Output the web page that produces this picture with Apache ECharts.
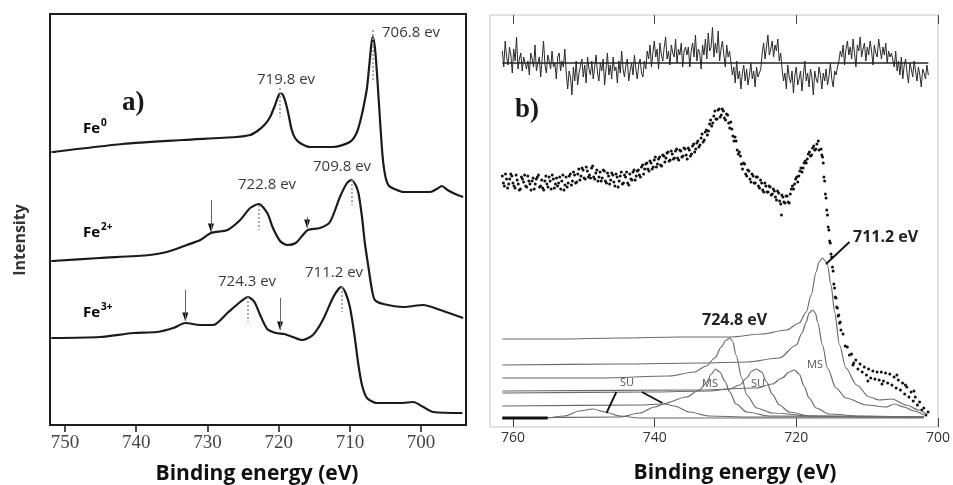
<!DOCTYPE html>
<html>
<head>
<meta charset="utf-8">
<script src="https://cdn.jsdelivr.net/npm/echarts@6/dist/echarts.min.js"></script>
<style>
  html, body { margin: 0; padding: 0; background: #fff; }
  #chart { width: 953px; height: 485px; }
</style>
</head>
<body>
<div id="chart"></div>
<script>
// ---------- Panel a: Fe 2p spectra of the reference states [binding energy (eV), intensity] ----------
const fe0 = [[751.7,273],[741.9,281],[733.4,285],[726.0,288],[724.0,290],[723.0,294],[722.0,300],[721.2,308],[720.5,320],[720.1,328],[719.8,332],[719.4,330],[719.0,322],[718.6,310],[718.2,296],[717.7,287],[717.0,282],[715.6,278],[712.4,278],[710.0,283],[709.0,293],[708.3,311],[707.9,325],[707.6,337],[707.3,358],[707.0,380],[706.8,388],[706.5,378],[706.2,352],[705.8,308],[705.4,268],[705.0,248],[704.5,239],[703.4,235],[702.5,233],[698.7,233],[697.8,236],[697.1,239],[696.3,235],[695.2,231],[694.1,228]];
const fe2 = [[751.8,164],[745.1,167],[738.1,170],[735.7,173],[732.9,180],[731.0,185],[729.5,192],[727.2,195],[725.4,205],[724.0,217],[722.8,221],[721.6,212],[720.8,197],[719.8,184],[718.8,180],[717.6,182],[716.6,190],[715.9,195],[714.2,197],[712.8,203],[711.4,228],[710.4,242],[709.8,245],[709.2,240],[708.8,232],[708.3,208],[707.9,182],[707.4,158],[706.9,135],[706.5,125],[705.3,121],[702.5,118],[699.7,120],[697.3,115],[694.1,107]];
const fe3 = [[751.8,87],[745.1,88],[740.4,92],[737.1,93],[734.8,97],[733.1,102],[731.0,100],[729.2,100],[727.2,112],[725.4,123],[724.3,128],[723.4,123],[722.6,110],[721.6,96],[720.4,92],[719.2,91],[718.0,88],[716.7,85],[715.2,90],[713.8,105],[712.4,127],[711.6,136],[711.2,138],[710.6,132],[710.0,118],[709.4,92],[708.8,60],[708.3,40],[707.6,27],[706.2,22],[702.9,22],[701.1,23],[699.7,18],[698.3,13],[694.2,12]];
const panelATicks = [700, 710, 720, 730, 740, 750];
const spectrumStarts = [273, 164, 87];
// peak positions quoted on panel a, and the dotted guides under them [eV, from, to]
const peakLabelsA = [706.8, 719.8, 709.8, 722.8, 724.3, 711.2];
const peakGuidesA = [[706.8,395,343],[719.8,337,308],[709.8,245,220],[722.8,220,195],[724.3,128,103],[711.2,138,113]];
// shake-up shoulders marked with arrows [eV, from, to]
const shoulderArrows = [[729.5,225,193],[716.0,208,197],[733.1,135,104],[719.8,127,95]];

// ---------- Panel b: measured spectrum, fit residual and fitted components ----------
const panelBTicks = [700, 720, 740, 760];
const residual = [
[761.5,12],[761.3,-4],[761.1,22],[760.9,6],[760.7,-2],[760.5,16],[760.3,8],[760.1,-10],[759.9,14],[759.7,2],[759.5,26],[759.3,-6],[759.1,4],[758.9,10],[758.7,-8],[758.5,6],
[758.3,8],[758.1,-6],[757.9,2],[757.7,-12],[757.5,10],[757.3,4],[757.1,-4],[756.9,18],[756.7,-8],[756.5,0],[756.3,6],[756.1,-14],[755.9,4],[755.7,22],[755.5,-2],[755.3,-10],[755.1,8],[754.9,2],[754.7,-6],[754.5,12],[754.3,-4],[754.1,0],[753.9,-16],[753.7,6],[753.5,10],[753.3,-8],[753.1,2],[752.9,-4],[752.7,14],[752.5,-10],
[752.3,-26],[752.1,-8],[751.9,-14],[751.7,-32],[751.5,-4],[751.3,-18],[751.1,2],[750.9,-22],[750.7,-10],
[750.5,-8],[750.3,4],[750.1,-14],[749.9,-2],[749.7,-20],[749.5,6],[749.3,-6],[749.1,-12],[748.9,2],[748.7,-16],[748.5,-4],[748.3,8],[748.1,-10],[747.9,-18],[747.7,0],[747.5,-8],[747.3,4],[747.1,-22],[746.9,-6],[746.7,10],[746.5,-12],[746.3,-2],[746.1,-16],[745.9,6],[745.7,-8],[745.5,-4],[745.3,-20],[745.1,2],[744.9,-10],[744.7,12],[744.5,-6],[744.3,-14],[744.1,-2],[743.9,4],[743.7,-18],[743.5,-8],[743.3,0],[743.1,-12],[742.9,8],[742.7,-6],[742.5,-16],[742.3,-2],[742.1,4],[741.9,-10],[741.7,-14],[741.5,2],[741.3,-6],
[741.1,12],[740.9,4],[740.7,18],[740.5,-4],[740.3,10],[740.1,22],[739.9,6],[739.7,14],[739.5,-6],[739.3,20],[739.1,8],[738.9,2],[738.7,16],[738.5,26],[738.3,4],[738.1,12],[737.9,-2],[737.7,18],[737.5,10],[737.3,6],[737.1,24],[736.9,0],[736.7,14],[736.5,8],[736.3,20],[736.1,-4],[735.9,12],[735.7,16],
[735.5,8],[735.3,16],[735.1,-4],[734.9,12],[734.7,20],[734.5,6],[734.3,28],[734.1,2],[733.9,14],[733.7,10],[733.5,-6],[733.3,18],[733.1,8],[732.9,24],[732.7,4],[732.5,30],[732.3,12],[732.1,16],[731.9,36],[731.7,6],[731.5,20],[731.3,10],[731.1,32],[730.9,2],[730.7,14],[730.5,22],[730.3,8],[730.1,-4],[729.9,18],[729.7,6],[729.5,12],[729.3,0],
[729.1,-12],[728.9,-4],[728.7,-20],[728.5,2],[728.3,-16],[728.1,-8],[727.9,-26],[727.7,-10],[727.5,-2],[727.3,-18],[727.1,-6],[726.9,-22],[726.7,-12],[726.5,0],[726.3,-16],[726.1,-8],[725.9,-24],[725.7,-4],[725.5,-14],[725.3,-10],[725.1,-6],
[724.9,10],[724.7,20],[724.5,4],[724.3,16],[724.1,28],[723.9,8],[723.7,14],[723.5,22],[723.3,6],[723.1,18],[722.9,12],[722.7,24],[722.5,2],[722.3,10],
[722.1,-6],[721.9,-18],[721.7,-10],[721.5,-26],[721.3,-2],[721.1,-14],[720.9,-20],[720.7,-8],[720.5,-30],[720.3,-12],[720.1,-4],[719.9,-22],[719.7,-16],[719.5,-8],[719.3,-28],[719.1,-12],[718.9,2],[718.7,-18],[718.5,-10],[718.3,-24],[718.1,-6],[717.9,-14],[717.7,-32],[717.5,-8],[717.3,-16],[717.1,-20],[716.9,-4],[716.7,-12],[716.5,-26],[716.3,-10],[716.1,-18],[715.9,-6],[715.7,-22],[715.5,-14],[715.3,0],[715.1,-16],[714.9,-24],[714.7,-8],[714.5,-12],[714.3,-4],
[714.1,2],[713.9,12],[713.7,6],[713.5,18],[713.3,-2],[713.1,14],[712.9,22],[712.7,8],[712.5,16],[712.3,4],[712.1,24],[711.9,10],[711.7,-4],[711.5,18],[711.3,12],[711.1,26],[710.9,6],[710.7,14],[710.5,20],[710.3,2],[710.1,16],[709.9,8],[709.7,22],[709.5,12],[709.3,-2],[709.1,18],[708.9,10],[708.7,6],[708.5,24],[708.3,14],[708.1,4],[707.9,16],[707.7,8],[707.5,20],[707.3,0],[707.1,12],[706.9,6],[706.7,10],
[706.5,8],[706.3,-4],[706.1,12],[705.9,-8],[705.7,2],[705.5,-12],[705.3,6],[705.1,-16],[704.9,-2],[704.7,4],[704.5,-10],[704.3,-20],[704.1,0],[703.9,-6],[703.7,-14],[703.5,2],[703.3,-8],[703.1,-18],[702.9,-4],[702.7,-12],[702.5,-24],[702.3,-6],[702.1,-10],[701.9,-16],[701.7,-2],[701.5,-12]];
const measured = [[761.5,251],[761.2,241],[760.9,248],[760.6,243],[760.3,253],[760.0,244],[759.7,239],[759.4,247],[759.1,237],[758.8,250],[758.5,245],[758.2,241],[757.9,251],[757.6,243],[757.3,246],[757.0,238],[756.7,248],[756.4,252],[756.1,241],[755.8,239],[755.5,246],[755.2,243],[754.9,250],[754.6,238],[754.3,248],[754.0,243],[753.7,241],[753.4,250],[753.1,246],[752.8,237],[752.5,250],[752.2,244],[751.9,253],[751.6,246],[751.3,252],[751.0,245],[750.7,258],[750.4,251],[750.1,257],[749.8,248],[749.5,256],[749.2,252],[748.9,259],[748.6,250],[748.3,254],[748.0,246],[747.7,255],[747.4,249],[747.1,256],[746.8,244],[746.5,251],[746.2,247],[745.9,252],[745.6,241],[745.3,250],[745.0,246],[744.7,255],[744.4,244],[744.1,250],[743.8,244],[743.5,253],[743.2,247],[742.9,257],[742.6,251],[742.3,257],[742.0,250],[741.7,262],[741.4,258],[741.1,264],[740.8,256],[740.5,264],[740.2,260],[739.9,270],[739.6,263],[739.3,270],[739.0,261],[738.7,271],[738.4,269],[738.1,275],[737.8,267],[737.5,273],[737.2,269],[736.9,278],[736.6,267],[736.3,276],[736.0,271],[735.7,278],[735.4,268],[735.1,277],[734.8,273],[734.5,283],[734.2,278],[733.9,286],[733.6,282],[733.3,293],[733.0,287],[732.7,297],[732.4,296],[732.1,307],[731.8,304],[731.5,316],[731.2,308],[730.9,318],[730.6,312],[730.3,316],[730.0,307],[729.7,312],[729.4,299],[729.1,298],[728.8,286],[728.5,286],[728.2,273],[727.9,271],[727.6,258],[727.3,263],[727.0,251],[726.7,256],[726.4,245],[726.1,251],[725.8,244],[725.5,250],[725.2,239],[724.9,244],[724.6,235],[724.3,241],[724.0,235],[723.7,240],[723.4,233],[723.1,236],[722.8,227],[722.5,234],[722.2,223],[721.9,230],[721.6,224],[721.3,231],[721.0,224],[720.7,238],[720.4,238],[720.1,248],[719.8,245],[719.5,256],[719.2,255],[718.9,264],[718.6,264],[718.3,273],[718.0,271],[717.7,279],[717.4,277],[717.1,283],[716.8,277],[716.5,278],[716.4,272],[716.3,270],[716.2,264],[716.1,250],[716.0,246],[715.9,233],[715.8,229],[715.7,217],[715.6,212],[715.5,200],[715.4,197],[715.3,186],[715.2,184],[715.1,173],[715.0,170],[714.9,160],[714.8,156],[714.7,143],[714.6,139],[714.5,130],[714.4,129],[714.3,120],[714.2,119],[714.1,111],[714.0,112],[713.9,104],[713.8,105],[713.7,97],[713.4,93],[713.1,81],[712.8,80],[712.5,72],[712.2,73],[711.9,64],[711.6,67],[711.3,58],[711.0,63],[710.7,55],[710.4,60],[710.1,52],[709.8,58],[709.5,49],[709.2,56],[708.9,48],[708.6,55],[708.3,47],[708.0,55],[707.7,46],[707.4,54],[707.1,44],[706.8,53],[706.5,42],[706.2,50],[705.9,39],[705.6,47],[705.3,37],[705.0,44],[704.7,33],[704.4,40],[704.1,30],[703.8,35],[703.5,26],[703.2,30],[702.9,22],[702.6,25],[702.3,17],[702.0,19],[701.7,12],[701.4,15],
[761.35,244],[761.05,253],[760.75,239],[760.45,248],[760.15,251],[759.85,241],[759.55,252],[759.25,243],[758.95,238],[758.65,248],[758.35,252],[758.05,240],[757.75,246],[757.45,237],[757.15,249],[756.85,243],[756.55,250],[756.25,240],[755.95,247],[755.65,237],[755.35,251],[755.05,240],[754.75,246],[754.45,252],[754.15,239],[753.85,249],[753.55,244],[753.25,238],[752.95,252],[752.65,242],[752.35,240],[752.05,251],[751.75,242],[751.45,255],[751.15,244],[750.85,253],[750.55,247],[750.25,259],[749.95,249],[749.65,260],[749.35,250],[749.05,249],[748.75,261],[748.45,248],[748.15,257],[747.85,250],[747.55,246],[747.25,257],[746.95,246],[746.65,254],[746.35,243],[746.05,254],[745.75,245],[745.45,253],[745.15,240],[744.85,251],[744.55,243],[744.25,252],[743.95,255],[743.65,242],[743.35,248],[743.05,255],[742.75,247],[742.45,256],[742.15,252],[741.85,260],[741.55,253],[741.25,263],[740.95,258],[740.65,266],[740.35,258],[740.05,267],[739.75,260],[739.45,268],[739.15,262],[738.85,272],[738.55,265],[738.25,274],[737.95,266],[737.65,276],[737.35,268],[737.05,276],[736.75,269],[736.45,277],[736.15,270],[735.85,279],[735.55,272],[735.25,279],[734.95,271],[734.65,281],[734.35,275],[734.05,284],[733.75,280],[733.45,289],[733.15,285],[732.85,295],[732.55,292],[732.25,303],[731.95,301],[731.65,311],[731.35,308],[731.05,317],[730.75,310],[730.45,318],[730.15,309],[729.85,313],[729.55,304],[729.25,305],[728.95,291],[728.65,290],[728.35,277],[728.05,275],[727.75,263],[727.45,264],[727.15,253],[726.85,257],[726.55,248],[726.25,253],[725.95,244],[725.65,250],[725.35,241],[725.05,247],[724.75,237],[724.45,244],[724.15,235],[723.85,241],[723.55,232],[723.25,238],[722.95,230],[722.65,236],[722.35,226],[722.05,232],[721.75,225],[721.45,231],[721.15,225],[720.85,233],[720.55,241],[720.25,243],[719.95,250],[719.65,251],[719.35,259],[719.05,259],[718.75,266],[718.45,268],[718.15,275],[717.85,272],[717.55,281],[717.25,278],
[722.1,212],[716.9,286],[712.0,62],[709.9,46],[707.9,43],[705.8,52],[704.6,42],[703.4,36]];
const envelope = [[761.5,88],[753.4,88],[744.9,89],[736.5,90],[729.4,90],[724.8,93],[721.4,97],[719.6,104],[718.6,115],[717.9,132],[717.2,155],[716.8,165],[716.3,169],[715.9,166],[715.6,162],[715.1,142],[714.6,115],[713.9,82],[713.0,59],[711.5,42],[709.7,30],[708.3,27],[706.5,28],[704.5,22],[702.7,17],[701.7,13]];
const mainP3 = [[761.5,62],[744.9,63],[733.7,64],[727.0,65],[722.4,69],[720.0,82],[719.2,94],[718.6,105],[718.2,114],[717.7,117],[717.3,114],[717.0,105],[716.3,82],[715.6,59],[714.4,39],[713.0,29],[710.1,22],[707.3,20],[706.2,23],[704.8,20],[703.4,16],[702.0,12]];
const mainP1 = [[761.5,49],[747.7,49],[737.9,51],[734.4,55],[732.7,61],[731.5,69],[730.6,80],[729.9,87],[729.4,89],[729.0,86],[728.5,72],[727.7,49],[727.0,32],[725.6,19],[723.4,14],[717.7,11],[709.7,10],[702.0,10]];
const multipletP1 = [[761.5,21],[742.1,22],[738.9,23],[735.5,30],[733.7,37],[732.7,44],[732.0,53],[731.4,58],[730.8,55],[730.1,46],[729.4,35],[728.5,23],[727.0,15],[723.8,11],[702.0,10]];
const shakeUpA = [[761.5,34],[740.7,35],[732.3,36],[729.4,38],[728.0,42],[727.0,49],[726.3,56],[725.6,58],[724.9,55],[724.2,45],[723.4,33],[722.4,22],[721.0,15],[718.2,11],[702.0,10]];
const multipletP3 = [[761.5,36],[733.7,37],[725.6,39],[723.4,43],[722.0,49],[721.0,55],[720.3,57],[719.6,53],[718.9,41],[718.2,29],[717.2,19],[715.4,13],[711.1,11],[702.0,10]];
const shakeUpB = [[761.5,9],[744.9,10],[742.1,14],[740.0,20],[738.6,23],[737.2,21],[735.1,15],[732.3,11],[726.6,10],[702.0,10]];
const shakeUpC = [[761.5,9],[755.5,9],[752.7,11],[750.6,16],[748.7,18],[747.0,15],[744.9,11],[742.1,9],[702.0,9]];
const baselineHeavy = [[761.5,9],[755.1,9]];
const peakLabelsB = [724.8, 711.2];
// leader lines from the component labels [[eV, y], [eV, y]]
const suLeaders = [[[745.4,35],[746.8,14]], [[741.8,35],[738.9,24]]];
const peakLeaderB = [[712.5,185],[715.8,163]];

const chart = echarts.init(document.getElementById('chart'), null, { renderer: 'canvas' });

const sans = '"Open Sans", "Noto Sans", sans-serif';
const fmtA = v => v.toFixed(1) + ' ev';
const fmtB = v => v.toFixed(1) + ' eV';

function lineA(name, data, extra) {
  return Object.assign({
    type: 'line', name, data, xAxisIndex: 0, yAxisIndex: 0,
    showSymbol: false, smooth: 0.25, silent: true,
    lineStyle: { color: '#1b1b1b', width: 2.2 }
  }, extra || {});
}
function lineB(name, data, extra) {
  return Object.assign({
    type: 'line', name, data, xAxisIndex: 1, yAxisIndex: 1,
    showSymbol: false, smooth: 0.3, smoothMonotone: 'x', silent: true,
    lineStyle: { color: '#6b6b6b', width: 1.2 }
  }, extra || {});
}
const segs = list => list.map(([a, b]) => [{ coord: a }, { coord: b }]);

const labelPosA = [[382,33],[257,80],[313,167],[238,185],[218,282],[305,273]];
const labelPosB = [[702,320],[853,237]];

function txt(x, y, text, font, fill, extra) {
  return Object.assign({
    type: 'text', x, y, silent: true,
    style: { text, font, fill, align: 'left', verticalAlign: 'middle', textAlign: 'left', textVerticalAlign: 'middle' }
  }, extra || {});
}
function ctxt(x, y, text, font, fill) {
  const t = txt(x, y, text, font, fill);
  t.style.align = 'center'; t.style.textAlign = 'center';
  return t;
}

const graphics = [];
peakLabelsA.forEach((v, i) => graphics.push(txt(labelPosA[i][0], labelPosA[i][1], fmtA(v), '15px ' + sans, '#3a3a3a')));
peakLabelsB.forEach((v, i) => graphics.push(txt(labelPosB[i][0], labelPosB[i][1], fmtB(v), 'bold 16px ' + sans, '#222')));
graphics.push(
  txt(122, 103, 'a)', 'bold 27px "Liberation Serif", serif', '#1a1a1a'),
  txt(515, 110, 'b)', 'bold 27px "Liberation Serif", serif', '#1a1a1a'),
  txt(83, 129, 'Fe', 'bold 15px ' + sans, '#000'), txt(101, 123, '0', 'bold 10px ' + sans, '#000'),
  txt(83, 233, 'Fe', 'bold 15px ' + sans, '#000'), txt(101, 227, '2+', 'bold 10px ' + sans, '#000'),
  txt(83, 313, 'Fe', 'bold 15px ' + sans, '#000'), txt(101, 307, '3+', 'bold 10px ' + sans, '#000'),
  ctxt(627, 383, 'SU', '11px ' + sans, '#555'),
  ctxt(710, 384, 'MS', '11px ' + sans, '#555'),
  ctxt(758, 384, 'SU', '11px ' + sans, '#555'),
  ctxt(815, 365, 'MS', '11px ' + sans, '#555'),
  ctxt(257, 474, 'Binding energy (eV)', 'bold 21px ' + sans, '#111'),
  ctxt(735, 473, 'Binding energy (eV)', 'bold 21px ' + sans, '#111'),
  Object.assign(ctxt(0, 0, 'Intensity', 'bold 16px ' + sans, '#333'), { x: 20, y: 240, rotation: Math.PI / 2 })
);

const option = {
  animation: false,
  backgroundColor: '#ffffff',
  grid: [
    { left: 50, top: 14, width: 416, height: 411, show: true, borderColor: '#1e1e1e', borderWidth: 2, backgroundColor: 'transparent' },
    { left: 490, top: 15, width: 449, height: 412, show: true, borderColor: '#c4c4c4', borderWidth: 1, backgroundColor: 'transparent' },
    { left: 490, top: 28, width: 449, height: 70 }
  ],
  xAxis: [
    { type: 'value', gridIndex: 0, inverse: true, min: 693.7, max: 752.1,
      axisLine: { show: false },
      axisTick: { show: true, customValues: panelATicks, length: 7, lineStyle: { color: '#222', width: 1.6 } },
      axisLabel: { customValues: panelATicks, fontFamily: '"Liberation Serif", serif', fontSize: 19, color: '#444', margin: 9 },
      splitLine: { show: false } },
    { type: 'value', gridIndex: 1, inverse: true, min: 700, max: 763.24, position: 'bottom',
      axisLine: { show: false },
      axisTick: { show: true, customValues: panelBTicks, inside: true, length: 9, lineStyle: { color: '#444', width: 1 } },
      axisLabel: { customValues: panelBTicks, fontFamily: sans, fontSize: 14, color: '#333', margin: 4 },
      splitLine: { show: false } },
    { type: 'value', gridIndex: 1, inverse: true, min: 700, max: 763.24, position: 'top',
      axisLine: { show: false },
      axisTick: { show: true, customValues: panelBTicks, inside: true, length: 9, lineStyle: { color: '#444', width: 1 } },
      axisLabel: { show: false }, splitLine: { show: false } },
    { type: 'value', gridIndex: 2, inverse: true, min: 700, max: 763.24, show: false }
  ],
  yAxis: [
    { type: 'value', gridIndex: 0, min: 0, max: 411,
      axisLine: { show: false },
      axisTick: { show: true, inside: true, customValues: spectrumStarts, length: 6, lineStyle: { color: '#222', width: 1.5 } },
      axisLabel: { show: false }, splitLine: { show: false } },
    { type: 'value', gridIndex: 1, min: 0, max: 412, show: false },
    { type: 'value', gridIndex: 2, min: -35, max: 35, show: false }
  ],
  series: [
    lineA('Fe0', fe0, {
      markLine: { silent: true, symbol: ['none', 'none'], label: { show: false },
        lineStyle: { type: [2, 2], color: '#9a9a9a', width: 1.6 },
        data: peakGuidesA.map(([e, a, b]) => [{ coord: [e, a] }, { coord: [e, b] }]) }
    }),
    lineA('Fe2+', fe2, {
      markLine: { silent: true, symbol: ['none', 'none'], label: { show: false },
        lineStyle: { type: 'solid', color: '#666', width: 1 },
        data: shoulderArrows.map(([e, a, b]) => [{ coord: [e, a] }, { coord: [e, b] }]) }
    }),
    lineA('Fe3+', fe3),
    // arrowheads at the lower end of each shoulder arrow
    { type: 'scatter', name: 'arrowheads', xAxisIndex: 0, yAxisIndex: 0, silent: true,
      data: shoulderArrows.map(([e, a, b]) => [e, b + 4]),
      symbol: 'triangle', symbolRotate: 180, symbolSize: [6, 9],
      itemStyle: { color: '#111', opacity: 1 } },

    lineB('shake-up C', shakeUpC),
    lineB('shake-up B', shakeUpB),
    lineB('multiplet 2p1/2', multipletP1),
    lineB('shake-up A', shakeUpA),
    lineB('multiplet 2p3/2', multipletP3),
    lineB('2p1/2', mainP1),
    lineB('2p3/2', mainP3),
    lineB('envelope', envelope, {
      markLine: { silent: true, symbol: ['none', 'none'], label: { show: false },
        lineStyle: { type: 'solid', color: '#111', width: 1.8 },
        data: segs(suLeaders).concat([[{ coord: peakLeaderB[0] }, { coord: peakLeaderB[1] }]]) }
    }),
    lineB('baseline', baselineHeavy, { smooth: false, lineStyle: { color: '#111', width: 3 } }),
    { type: 'scatter', name: 'measured', data: measured, xAxisIndex: 1, yAxisIndex: 1,
      symbolSize: 3, itemStyle: { color: '#111', opacity: 1 }, silent: true },

    { type: 'line', name: 'residual', data: residual, xAxisIndex: 3, yAxisIndex: 2,
      showSymbol: false, silent: true, lineStyle: { color: '#2a2a2a', width: 1 } },
    { type: 'line', name: 'zero', xAxisIndex: 3, yAxisIndex: 2, showSymbol: false, silent: true,
      data: [[residual[0][0], 0], [residual[residual.length - 1][0], 0]],
      lineStyle: { color: '#222', width: 1.3 } }
  ],
  graphic: graphics
};

chart.setOption(option);
</script>
</body>
</html>
